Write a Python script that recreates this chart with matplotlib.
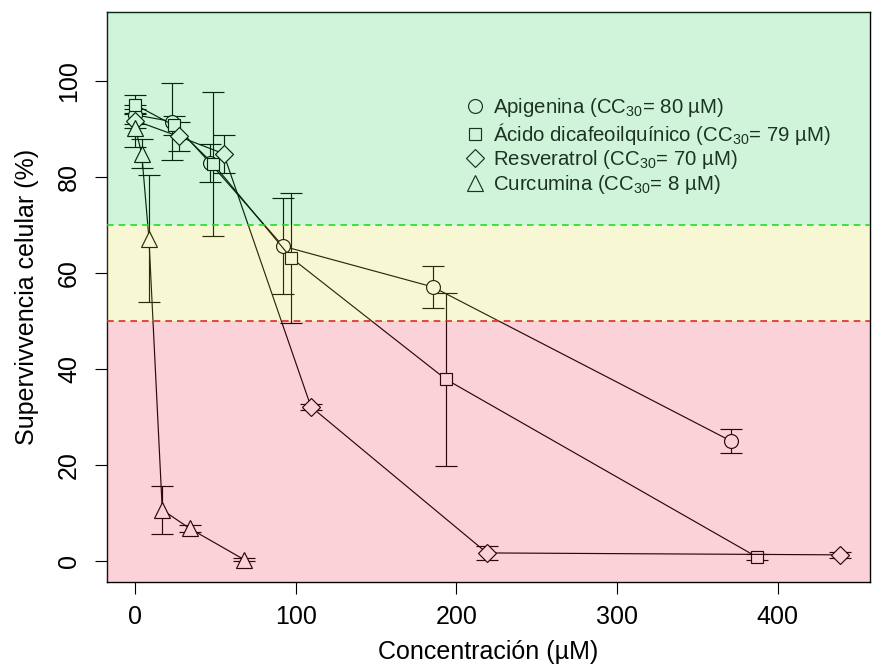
#!/usr/bin/env python3
"""Cell survival vs concentration for four compounds (CC30 chart)."""

import matplotlib

matplotlib.use("Agg")
import matplotlib.pyplot as plt

# --- data ------------------------------------------------------------------
api_conc = [0, 23, 46.5, 92, 185.3, 370.7]
api_surv = [93, 91.6, 83, 65.6, 57.1, 25]
api_err = [2, 8, 4, 10, 4.4, 2.5]

aci_conc = [0, 24, 48.5, 97, 193.6, 387.4]
aci_surv = [95.1, 90.8, 82.8, 63.2, 37.8, 0.7]
aci_err = [2, 2, 15, 13.6, 18, 0.6]

res_conc = [0, 27, 55, 109.4, 219, 438.6]
res_surv = [91.8, 88.5, 84.9, 32.1, 1.6, 1.2]
res_err = [1.5, 3, 4, 0.6, 1.5, 0.6]

cur_conc = [0, 4, 8.5, 16.8, 33.9, 67.8]
cur_surv = [90.3, 84.9, 67.2, 10.6, 6.7, 0.2]
cur_err = [4, 3, 13.3, 5, 0.8, 0.3]

labels = [
    "Apigenina (CC$_{30}$= 80 µM)",
    "Ácido dicafeoilquínico (CC$_{30}$= 79 µM)",
    "Resveratrol (CC$_{30}$= 70 µM)",
    "Curcumina (CC$_{30}$= 8 µM)",
]
x_ticks = [0, 100, 200, 300, 400]
y_ticks = [0, 20, 40, 60, 80, 100]

plt.rcParams["font.family"] = ["Liberation Sans", "DejaVu Sans"]
plt.rcParams["mathtext.default"] = "regular"

fig = plt.figure(figsize=(8.73, 6.66), dpi=100)
ax = fig.add_axes([0.1226, 0.1266, 0.8740, 0.8549])

series = [
    (api_conc, api_surv, api_err, "o", 10),
    (aci_conc, aci_surv, aci_err, "s", 9),
    (res_conc, res_surv, res_err, "D", 9),
    (cur_conc, cur_surv, cur_err, "^", 12),
]
for conc, surv, err, marker, size in series:
    ax.errorbar(conc, surv, yerr=err, color="black", lw=0.85, elinewidth=0.85,
                capsize=8, capthick=0.85, marker=marker, ms=size,
                mfc="white", mec="black", mew=0.85, zorder=2)

# translucent bands drawn over the data, as in the original
ax.axhspan(70, 200, color=(0.08, 0.80, 0.27), alpha=0.2, lw=0, zorder=3)
ax.axhspan(50, 70, color=(0.86, 0.86, 0.16), alpha=0.2, lw=0, zorder=3)
ax.axhspan(-50, 50, color=(0.92, 0.12, 0.24), alpha=0.2, lw=0, zorder=3)
ax.axhline(70, color="#22dd22", ls=(0, (4, 3)), lw=1.2, zorder=4)
ax.axhline(50, color="#e02a2a", ls=(0, (4, 3)), lw=1.2, zorder=4)

ax.set_xlim(-17.6, 457.6)
ax.set_ylim(-4.4, 114.4)
ax.set_xticks(x_ticks)
ax.set_yticks(y_ticks)
ax.tick_params(axis="both", length=8.7, width=0.8, labelsize=18)
ax.tick_params(axis="x", pad=8)
ax.tick_params(axis="y", pad=10)
for lab in ax.get_yticklabels():
    lab.set_rotation(90)
    lab.set_va("center")
for spine in ax.spines.values():
    spine.set_linewidth(1)

ax.set_xlabel("Concentración (µM)", fontsize=18, labelpad=8)
ax.set_ylabel("Supervivvencia celular (%)", fontsize=18, labelpad=13)

# legend with hollow markers, no frame
handles = []
for marker, size in [("o", 10), ("s", 9), ("D", 9), ("^", 12)]:
    h = ax.plot([], [], ls="none", marker=marker, ms=size, mfc="none",
                mec="#1c3324", mew=0.85)[0]
    handles.append(h)
leg = ax.legend(handles, labels, loc="upper left", bbox_to_anchor=(0.468, 0.853),
                frameon=False, fontsize=14.7, handletextpad=0.3,
                labelspacing=0.08, borderaxespad=0, handlelength=1.1,
                borderpad=0)
for t in leg.get_texts():
    t.set_color("#1c3324")

fig.savefig("out.png", dpi=100)
